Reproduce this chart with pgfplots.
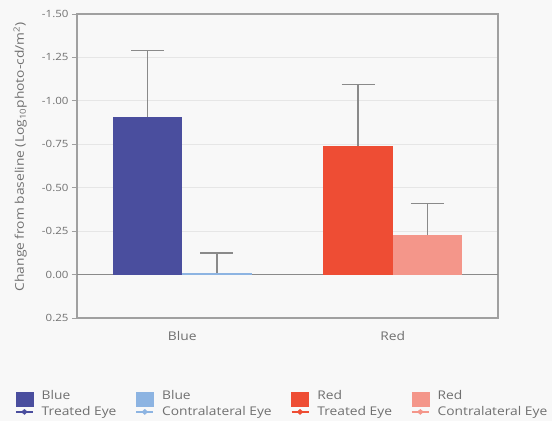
\documentclass[border=0pt]{standalone}
\usepackage{pgfplots}
\pgfplotsset{compat=1.18}
\usepackage{fontspec}
\setmainfont{Open Sans}[FakeStretch=1.15]
\definecolor{bg}{HTML}{F8F8F8}
\definecolor{txt}{HTML}{707070}
\definecolor{bt}{HTML}{4A4E9E}
\definecolor{bc}{HTML}{8DB4E2}
\definecolor{rt}{HTML}{EE4D34}
\definecolor{rc}{HTML}{F4968A}
\definecolor{errc}{HTML}{8A8A8A}
\definecolor{gridc}{HTML}{E6E6E6}
\definecolor{framec}{HTML}{A0A0A0}
\newcommand{\legimg}[1]{%
  \fill[#1] (0bp,-2bp) rectangle (17bp,12bp);
  \draw[#1,line width=1.6bp] (0bp,-8bp) -- (17bp,-8bp);
  \fill[#1] (8.5bp,-5.4bp) -- (11.5bp,-8bp) -- (8.5bp,-10.6bp) -- (5.5bp,-8bp) -- cycle;}
\pgfplotsset{errstyle/.style={error bars/.cd, y dir=minus, y explicit,
   error bar style={draw=errc, line width=1.5bp},
   error mark options={rotate=90, draw=errc, line width=1.5bp, mark size=16.5bp}}}
\begin{document}
\begin{tikzpicture}
\path[use as bounding box, fill=bg] (-77bp,-103bp) rectangle (475bp,318bp);
\begin{axis}[
  scale only axis, width=421bp, height=304bp,
  at={(0,0)}, anchor=south west,
  ybar, bar width=0.33,
  y dir=reverse,
  xmin=-0.5, xmax=1.5, ymin=-1.5, ymax=0.25,
  xtick={0,1}, xticklabels={Blue,Red},
  ytick={-1.5,-1.25,-1,-0.75,-0.5,-0.25,0,0.25},
  /pgf/number format/assume math mode=true,
  yticklabel style={/pgf/number format/fixed, /pgf/number format/fixed zerofill, /pgf/number format/precision=2,
     font=\fontsize{10bp}{12bp}\selectfont, text=txt},
  xticklabel style={font=\fontsize{12bp}{14bp}\selectfont, text=txt, yshift=-5bp},
  x tick style={draw=none},
  y tick style={draw=framec, line width=1bp},
  tick align=outside, major tick length=5bp,
  ytick pos=left,
  ymajorgrids, grid style={draw=gridc, line width=0.8bp},
  extra y ticks={0}, extra y tick labels={},
  extra y tick style={grid style={draw=errc, line width=1.5bp}, tick style={draw=none}},
  axis line style={draw=framec, line width=1.2bp},
  axis background/.style={fill=bg},
  ylabel={Change from baseline (Log\textsubscript{10}photo-cd/m\textsuperscript{2})},
  ylabel style={at={(axis description cs:-0.135,0.53)}, anchor=center, font=\fontsize{12bp}{14bp}\selectfont, text=txt},
  legend columns=4,
  legend style={at={(axis description cs:-0.1545,-0.225)}, anchor=north west, draw=none, fill=none,
     font=\fontsize{12bp}{16bp}\selectfont, text=txt, cells={anchor=west, align=left},
     /tikz/every odd column/.append style={column sep=6bp},
     /tikz/every even column/.append style={column sep=17bp}},
]
\addlegendimage{legend image code/.code={\legimg{bt}}}
\addlegendentry{Blue\\Treated Eye}
\addlegendimage{legend image code/.code={\legimg{bc}}}
\addlegendentry{Blue\\Contralateral Eye}
\addlegendimage{legend image code/.code={\legimg{rt}}}
\addlegendentry{Red\\Treated Eye}
\addlegendimage{legend image code/.code={\legimg{rc}}}
\addlegendentry{Red\\Contralateral Eye}

\addplot[fill=bt, draw=none, bar shift=-0.165, forget plot, errstyle] coordinates {(0,-0.905) +- (0,0.385)};
\addplot[fill=bc, draw=none, bar shift=0.165, forget plot, errstyle] coordinates {(0,-0.01) +- (0,0.115)};
\addplot[fill=rt, draw=none, bar shift=-0.165, forget plot, errstyle] coordinates {(1,-0.74) +- (0,0.355)};
\addplot[fill=rc, draw=none, bar shift=0.165, forget plot, errstyle] coordinates {(1,-0.226) +- (0,0.184)};
\end{axis}
\end{tikzpicture}
\end{document}
